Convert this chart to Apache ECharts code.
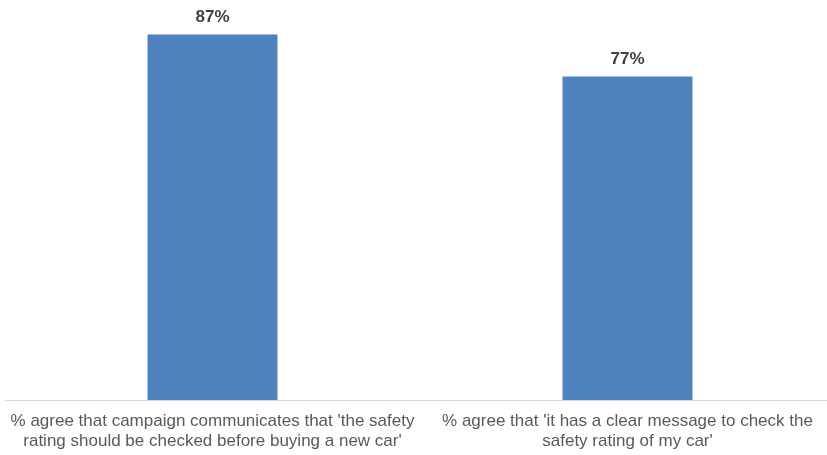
<!DOCTYPE html>
<html><head><meta charset="utf-8">
<script src="https://cdn.jsdelivr.net/npm/echarts@6/dist/echarts.min.js"></script>
<style>html,body{margin:0;padding:0;background:#fff}#c{width:827px;height:455px}</style>
</head><body><div id="c"></div>
<script>
const categories = [
  "% agree that campaign communicates that 'the safety\nrating should be checked before buying a new car'",
  "% agree that 'it has a clear message to check the\nsafety rating of my car'"
];
const values = [87, 77];

const chart = echarts.init(document.getElementById('c'), null, {renderer: 'canvas'});
chart.setOption({
  animation: false,
  grid: {left: 5, width: 830, top: 22, bottom: 55, containLabel: false, outerBoundsMode: 'none'},
  xAxis: {
    type: 'category',
    data: categories,
    axisLine: {lineStyle: {color: '#d9d9d9', width: 1}},
    axisTick: {show: false},
    axisLabel: {
      interval: 0,
      color: '#595959',
      fontFamily: 'Liberation Sans, Arial, sans-serif',
      fontSize: 17,
      lineHeight: 19.5,
      margin: 12
    }
  },
  yAxis: {
    type: 'value', min: 0, max: 90, show: false,
    splitLine: {show: false}
  },
  series: [{
    type: 'bar',
    data: values,
    barWidth: 130,
    itemStyle: {color: '#4f81bd'},
    label: {
      show: true, position: 'top', distance: 8.5,
      formatter: p => p.value + '%',
      color: '#404040', fontWeight: 'bold', fontSize: 17,
      fontFamily: 'Liberation Sans, Arial, sans-serif'
    }
  }]
});
</script></body></html>
